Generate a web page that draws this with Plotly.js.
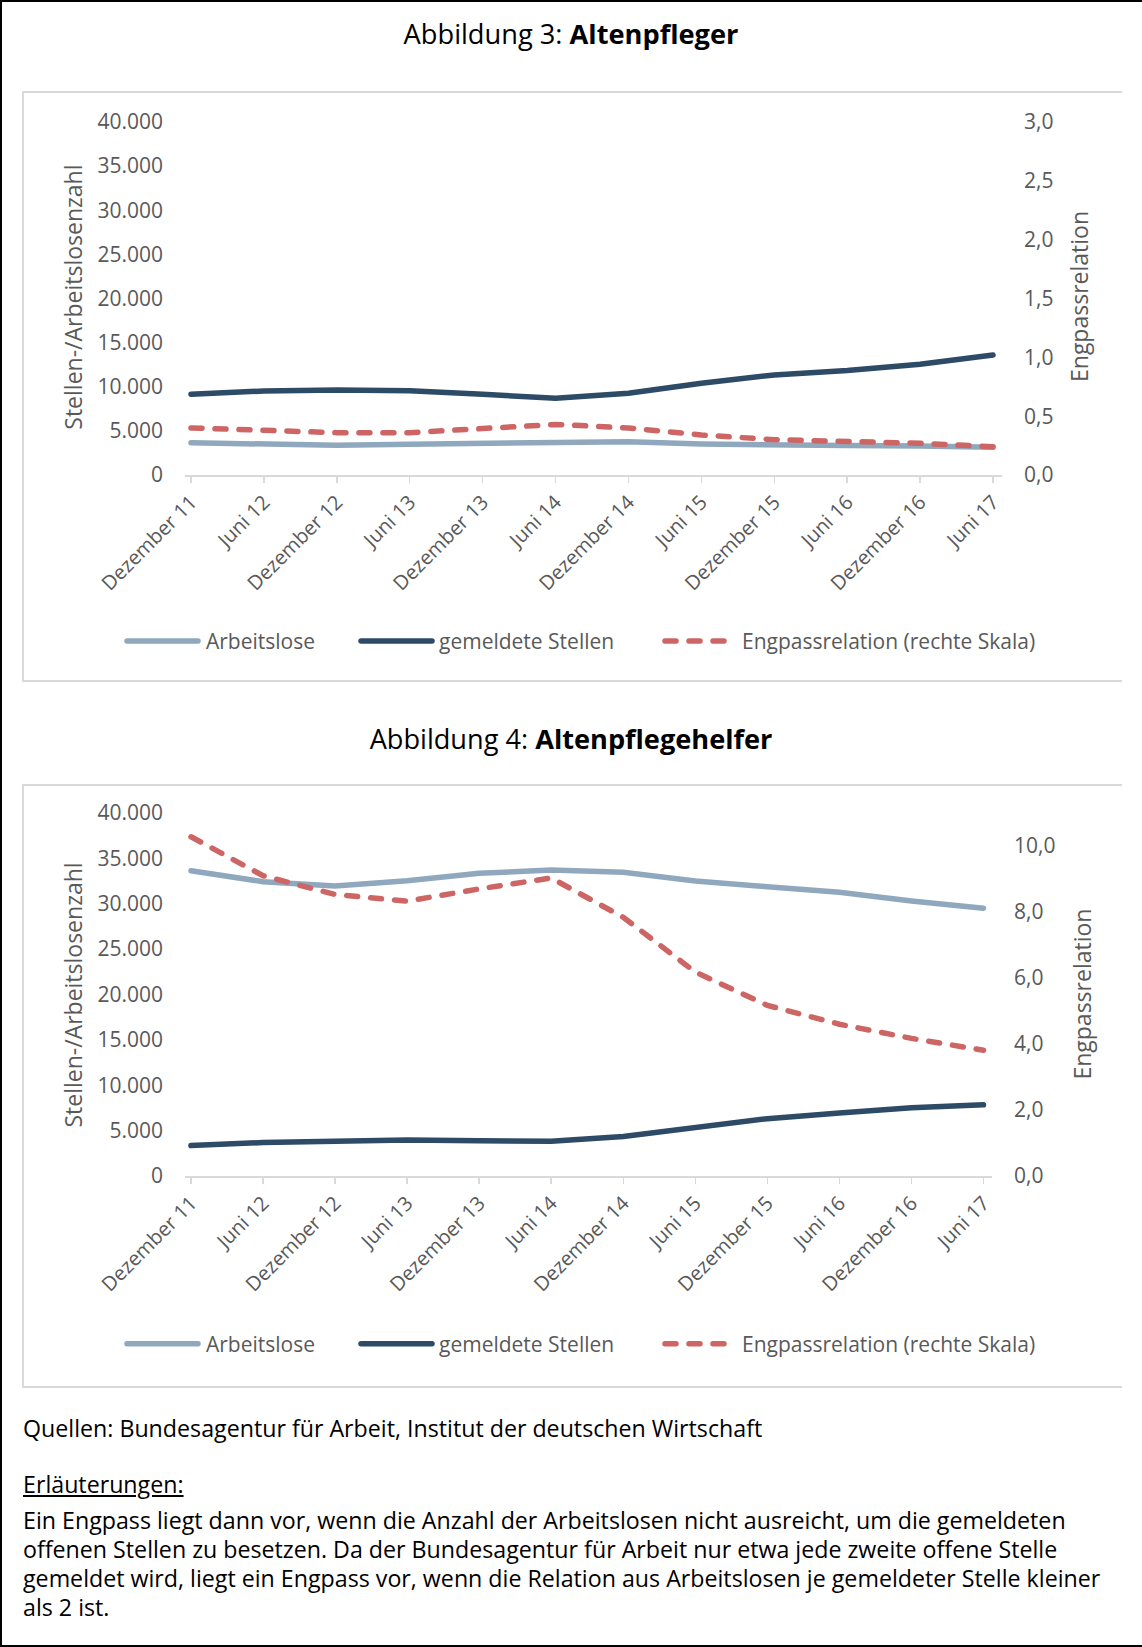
<!DOCTYPE html>
<html><head><meta charset="utf-8">
<script src="https://cdn.plot.ly/plotly-3.0.1.min.js"></script>
<style>
html,body{margin:0;padding:0;background:#fff;}
#page{position:relative;width:1142px;height:1647px;overflow:hidden;font-family:'Open Sans','Noto Sans',sans-serif;background:#fff;}
.frame{position:absolute;left:0;top:0;width:1142px;height:1647px;box-sizing:border-box;border-left:2px solid #000;border-top:2px solid #000;border-bottom:2px solid #000;}
.panel{position:absolute;left:22px;width:1100px;box-sizing:border-box;border-left:2px solid #d9d9d9;border-top:2px solid #d9d9d9;border-bottom:2px solid #d9d9d9;}
.title{position:absolute;left:0;width:1142px;text-align:center;height:40px;line-height:40px;color:#000;white-space:nowrap;}
.title span{display:inline-block;font-size:25px;line-height:34px;}
.chart{position:absolute;left:0;width:1142px;height:700px;}
.ft{position:absolute;left:23px;height:28px;line-height:28px;white-space:nowrap;color:#000;}
.ft span{display:inline-block;font-size:21px;line-height:25px;vertical-align:middle;}
.js-line, .shapelayer path{stroke-linecap:round !important;}
</style></head>
<body>
<div id="page">
  <div class="frame"></div>
  <div class="panel" style="top:91px;height:591px;"></div>
  <div class="panel" style="top:784px;height:604px;"></div>
  <div class="title" style="top:17px;"><span id="t1">Abbildung 3: <b>Altenpfleger</b></span></div>
  <div class="title" style="top:722px;"><span id="t2">Abbildung 4: <b>Altenpflegehelfer</b></span></div>
  <div id="chart1" class="chart" style="top:0px;"></div>
  <div id="chart2" class="chart" style="top:700px;"></div>
  <div class="ft" style="top:1413px;"><span class="fts">Quellen: Bundesagentur für Arbeit, Institut der deutschen Wirtschaft</span></div>
  <div class="ft" style="top:1469px;"><span class="fts" style="text-decoration:underline;">Erläuterungen:</span></div>
  <div class="ft" style="top:1504.5px;"><span class="fts">Ein Engpass liegt dann vor, wenn die Anzahl der Arbeitslosen nicht ausreicht, um die gemeldeten</span></div>
  <div class="ft" style="top:1533.5px;"><span class="fts">offenen Stellen zu besetzen. Da der Bundesagentur für Arbeit nur etwa jede zweite offene Stelle</span></div>
  <div class="ft" style="top:1562.5px;"><span class="fts" id="fitline">gemeldet wird, liegt ein Engpass vor, wenn die Relation aus Arbeitslosen je gemeldeter Stelle kleiner</span></div>
  <div class="ft" style="top:1591.5px;"><span class="fts">als 2 ist.</span></div>
</div>
<script>
// ---- data ----
const categories = ['Dezember 11','Juni 12','Dezember 12','Juni 13','Dezember 13','Juni 14','Dezember 14','Juni 15','Dezember 15','Juni 16','Dezember 16','Juni 17'];
const seriesNames = ['Arbeitslose','gemeldete Stellen','Engpassrelation (rechte Skala)'];
const leftAxisTitle = 'Stellen-/Arbeitslosenzahl';
const rightAxisTitle = 'Engpassrelation';

// Abbildung 3: Altenpfleger
const apArbeitslose = [3660,3440,3360,3480,3590,3780,3780,3510,3360,3330,3290,3140];
const apStellen     = [9150,9520,9640,9560,9150,8700,9260,10400,11340,11830,12550,13600];
const apEngpass     = [0.40,0.38,0.36,0.36,0.39,0.43,0.40,0.34,0.30,0.29,0.27,0.24];

// Abbildung 4: Altenpflegehelfer
const aphArbeitslose = [33640,32430,31960,32540,33350,33720,33460,32500,31880,31260,30300,29500];
const aphStellen     = [3350,3690,3830,3970,3880,3830,4350,5410,6320,6930,7510,7840];
const aphEngpass     = [10.28,9.10,8.53,8.33,8.70,9.03,7.84,6.18,5.17,4.60,4.17,3.81];

// tick values
const leftTickVals = [0,5000,10000,15000,20000,25000,30000,35000,40000];
const leftRange = [0,40000];
const apRightTickVals = [0,0.5,1.0,1.5,2.0,2.5,3.0];
const apRightRange = [0,3];
const aphRightTickVals = [0,2,4,6,8,10];
const aphRightRange = [0,11];

// ---- styling ----
const FONT = "'Open Sans','Noto Sans',sans-serif";
const TXT = '#595959';
const AXG = '#d9d9d9';
const COL = ['#8FA8BE','#2D4A66','#CD6565'];
const LW = 5.5;
const DASH = '11px,13px';

function buildChart(divId, d, g) {
  const n = categories.length;
  const pw = g.R - g.L, ph = g.B - g.T;
  const ppc = (g.p1 - g.p0) / (n - 1);
  const xr = [-(g.p0 - g.L) / ppc, (n - 1) + (g.R - g.p1) / ppc];
  const X = px => (px - g.L) / pw;
  const Y = py => (g.B - py) / ph;
  const traces = [
    {x: categories, y: d.arb, name: seriesNames[0], type: 'scatter', mode: 'lines', yaxis: 'y',
     line: {color: COL[0], width: LW}, hoverinfo: 'skip'},
    {x: categories, y: d.stel, name: seriesNames[1], type: 'scatter', mode: 'lines', yaxis: 'y',
     line: {color: COL[1], width: LW}, hoverinfo: 'skip'},
    {x: categories, y: d.eng, name: seriesNames[2], type: 'scatter', mode: 'lines', yaxis: 'y2',
     line: {color: COL[2], width: LW, dash: DASH}, hoverinfo: 'skip'}
  ];
  const leg = [
    {x0: 127, x1: 198, tx: 204, dash: 'solid'},
    {x0: 361, x1: 432, tx: 437, dash: 'solid'},
    {x0: 665, x1: 731, tx: 740, dash: DASH}
  ];
  const shapes = leg.map((it, i) => ({
    type: 'line', xref: 'paper', yref: 'paper',
    x0: X(it.x0), x1: X(it.x1), y0: Y(g.legY), y1: Y(g.legY),
    line: {color: COL[i], width: LW, dash: it.dash}
  }));
  const annotations = leg.map((it, i) => ({
    xref: 'paper', yref: 'paper', x: X(it.tx), y: Y(g.legY), xanchor: 'left', yanchor: 'middle',
    text: seriesNames[i], showarrow: false, font: {family: FONT, size: 21, color: TXT}
  }));
  annotations.push({xref: 'paper', yref: 'paper', x: X(g.ltx), y: Y(g.lty), xanchor: 'center', yanchor: 'middle',
    text: leftAxisTitle, textangle: -90, showarrow: false, font: {family: FONT, size: 23, color: TXT}});
  annotations.push({xref: 'paper', yref: 'paper', x: X(g.rtx), y: Y(g.rty), xanchor: 'center', yanchor: 'middle',
    text: rightAxisTitle, textangle: -90, showarrow: false, font: {family: FONT, size: 23, color: TXT}});
  const layout = {
    width: 1142, height: 700,
    margin: {l: g.L, r: 1142 - g.R, t: g.T, b: 700 - g.B, pad: 0},
    paper_bgcolor: 'rgba(0,0,0,0)', plot_bgcolor: 'rgba(0,0,0,0)',
    separators: ',.',
    font: {family: FONT, size: 21, color: TXT},
    showlegend: false,
    xaxis: {type: 'category', range: xr, showline: true, linecolor: AXG, linewidth: 1.5,
      ticks: 'outside', ticklen: 6, tickwidth: 1.5, tickcolor: AXG, tickangle: -45,
      tickfont: {family: FONT, size: 20, color: TXT}, showgrid: false, zeroline: false,
      automargin: false, fixedrange: true},
    yaxis: {range: leftRange, tickvals: leftTickVals, tickformat: ',.0f', showgrid: false,
      zeroline: false, showline: false, ticks: '', ticklabelstandoff: 21,
      tickfont: {family: FONT, size: 21, color: TXT}, automargin: false, fixedrange: true},
    yaxis2: {overlaying: 'y', side: 'right', range: d.rRange, tickvals: d.rTicks, tickformat: '.1f',
      showgrid: false, zeroline: false, showline: false, ticks: '', ticklabelstandoff: 21,
      tickfont: {family: FONT, size: 21, color: TXT}, automargin: false, fixedrange: true},
    shapes: shapes, annotations: annotations
  };
  return Plotly.newPlot(divId, traces, layout, {displayModeBar: false, staticPlot: true});
}

buildChart('chart1',
  {arb: apArbeitslose, stel: apStellen, eng: apEngpass, rRange: apRightRange, rTicks: apRightTickVals},
  {L: 185, R: 1002, T: 122, B: 475, p0: 191, p1: 993, legY: 641, ltx: 72.7, lty: 297, rtx: 1079, rty: 297});
buildChart('chart2',
  {arb: aphArbeitslose, stel: aphStellen, eng: aphEngpass, rRange: aphRightRange, rTicks: aphRightTickVals},
  {L: 185, R: 992, T: 113, B: 476.25, p0: 191, p1: 983.5, legY: 644, ltx: 72.7, lty: 295, rtx: 1081.7, rty: 294});

// fit text widths to reference
function fit(el, target) {
  const w = el.getBoundingClientRect().width;
  const fs = parseFloat(getComputedStyle(el).fontSize);
  const nf = fs * target / w;
  el.style.fontSize = nf + 'px';
  return nf;
}
fit(document.getElementById('t1'), 335);
fit(document.getElementById('t2'), 403);
const fl = document.getElementById('fitline');
const nf = fit(fl, 1078);
document.querySelectorAll('.fts').forEach(e => e.style.fontSize = nf + 'px');
</script>
</body></html>
